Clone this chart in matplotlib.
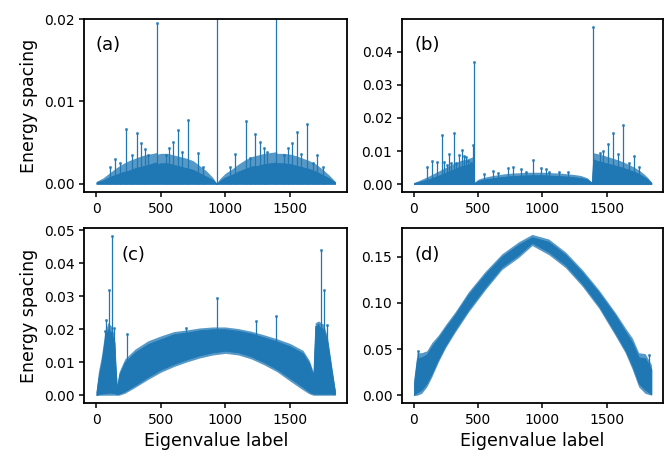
import numpy as np
import matplotlib
matplotlib.use('Agg')
import matplotlib.pyplot as plt

plt.rcParams.update({
    'font.family': 'DejaVu Sans',
    'xtick.labelsize': 10,
    'ytick.labelsize': 10,
    'axes.labelsize': 12.5,
    'axes.linewidth': 1.3,
    'xtick.major.width': 1.1,
    'ytick.major.width': 1.1,
})

BLUE = '#1f77b4'
N_LAST = 1849

# ---- panel (a): dense band top, hair fringe top, spikes
a_env_x = [0, 50, 100, 150, 200, 250, 300, 350, 400, 440, 465, 470, 500, 550, 600, 650,
           700, 750, 800, 850, 900, 931, 960, 1000, 1050, 1100, 1150, 1200, 1250, 1300,
           1350, 1394, 1400, 1450, 1500, 1550, 1600, 1650, 1700, 1750, 1800, 1849]
a_env_hi = [0.0002, 0.0004, 0.0008, 0.0011, 0.0014, 0.0016, 0.0019, 0.0021, 0.0023, 0.0025,
            0.0026, 0.0024, 0.0025, 0.0025, 0.0023, 0.0021, 0.0019, 0.0017, 0.0013, 0.0009,
            0.0005, 0.0000, 0.0004, 0.0008, 0.0011, 0.0015, 0.0018, 0.0021, 0.0022, 0.0024,
            0.0025, 0.0026, 0.0025, 0.0025, 0.0024, 0.0022, 0.0020, 0.0018, 0.0015, 0.0011,
            0.0007, 0.0002]
a_fringe = [0.0003, 0.0007, 0.0013, 0.0019, 0.0024, 0.0028, 0.0031, 0.0034, 0.0036, 0.0037,
            0.0038, 0.0036, 0.0037, 0.0037, 0.0035, 0.0033, 0.0031, 0.0028, 0.0022, 0.0016,
            0.0008, 0.0001, 0.0007, 0.0013, 0.0018, 0.0024, 0.0029, 0.0033, 0.0035, 0.0037,
            0.0038, 0.0039, 0.0037, 0.0037, 0.0036, 0.0034, 0.0031, 0.0028, 0.0024, 0.0018,
            0.0011, 0.0003]
a_spike_x = [108, 147, 183, 226, 275, 311, 347, 373, 399, 468, 540, 566, 592, 633, 664, 708,
             787, 826, 931, 1037, 1076, 1155, 1191, 1230, 1266, 1299, 1320, 1394, 1454, 1485,
             1515, 1551, 1588, 1634, 1680, 1711, 1752]
a_spike_y = [0.0020, 0.0030, 0.0025, 0.0067, 0.0035, 0.0062, 0.0049, 0.0042, 0.0035, 0.0195,
             0.0035, 0.0043, 0.0051, 0.0065, 0.0039, 0.0077, 0.0037, 0.0021, 0.0300, 0.0021,
             0.0036, 0.0076, 0.0031, 0.0061, 0.0051, 0.0044, 0.0039, 0.0300, 0.0035, 0.0043,
             0.0049, 0.0063, 0.0036, 0.0073, 0.0025, 0.0035, 0.0021]

# ---- panel (b)
b_env_x = [0, 40, 80, 120, 160, 200, 240, 280, 320, 360, 400, 440, 462, 470, 500, 550, 600,
           650, 700, 750, 800, 850, 900, 950, 1000, 1050, 1100, 1150, 1200, 1250, 1300, 1350,
           1385, 1395, 1430, 1470, 1510, 1550, 1590, 1630, 1670, 1710, 1750, 1790, 1820, 1849]
b_env_hi = [0.0003, 0.0007, 0.0011, 0.0015, 0.0021, 0.0027, 0.0033, 0.0040, 0.0046, 0.0053,
            0.0057, 0.0062, 0.0065, 0.0003, 0.0010, 0.0014, 0.0017, 0.0020, 0.0022, 0.0024,
            0.0025, 0.0026, 0.0027, 0.0027, 0.0027, 0.0026, 0.0025, 0.0024, 0.0023, 0.0021,
            0.0019, 0.0014, 0.0004, 0.0075, 0.0070, 0.0066, 0.0062, 0.0058, 0.0054, 0.0049,
            0.0044, 0.0038, 0.0031, 0.0022, 0.0014, 0.0004]
b_fringe = [0.0005, 0.0011, 0.0018, 0.0025, 0.0033, 0.0041, 0.0049, 0.0057, 0.0064, 0.0071,
            0.0075, 0.0080, 0.0083, 0.0005, 0.0015, 0.0021, 0.0025, 0.0028, 0.0031, 0.0033,
            0.0034, 0.0035, 0.0036, 0.0036, 0.0036, 0.0035, 0.0034, 0.0033, 0.0031, 0.0029,
            0.0026, 0.0019, 0.0006, 0.0095, 0.0092, 0.0088, 0.0083, 0.0078, 0.0073, 0.0067,
            0.0060, 0.0052, 0.0043, 0.0031, 0.0020, 0.0006]
b_spike_x = [103, 142, 180, 222, 235, 258, 274, 291, 309, 327, 353, 375, 389, 407, 425, 441,
             464, 465, 549, 618, 652, 729, 771, 830, 871, 928, 992, 1031, 1049, 1126, 1198,
             1395, 1448, 1469, 1508, 1549, 1585, 1631, 1678, 1714, 1755]
b_spike_y = [0.0053, 0.0070, 0.0067, 0.0149, 0.0067, 0.0057, 0.0092, 0.0065, 0.0156, 0.0065,
             0.0087, 0.0102, 0.0085, 0.0082, 0.0070, 0.0065, 0.0119, 0.0369, 0.0030, 0.0040,
             0.0035, 0.0050, 0.0052, 0.0047, 0.0038, 0.0073, 0.0049, 0.0045, 0.0037, 0.0038,
             0.0038, 0.0476, 0.0095, 0.0100, 0.0122, 0.0156, 0.0092, 0.0179, 0.0065, 0.0085,
             0.0053]

# ---- panel (c)
c_env_x = [0, 15, 40, 65, 90, 115, 140, 150, 160, 175, 220, 300, 400, 500, 600, 700, 800,
           900, 1000, 1100, 1200, 1300, 1400, 1500, 1600, 1650, 1680, 1695, 1720, 1760, 1790,
           1820, 1849]
c_env_hi = [0.001, 0.005, 0.010, 0.017, 0.020, 0.019, 0.016, 0.008, 0.002, 0.006, 0.010,
            0.013, 0.0155, 0.017, 0.0185, 0.019, 0.0197, 0.020, 0.020, 0.0195, 0.0187, 0.0175,
            0.0163, 0.0148, 0.0127, 0.0095, 0.006, 0.021, 0.021, 0.020, 0.016, 0.008, 0.001]
c_env_lo = [0.0, 0.0003, 0.0005, 0.0006, 0.0008, 0.0008, 0.0006, 0.0005, 0.0003, 0.0005,
            0.0012, 0.0031, 0.0056, 0.0078, 0.0095, 0.0109, 0.0121, 0.0130, 0.0135, 0.0130,
            0.0118, 0.0100, 0.0079, 0.0052, 0.0025, 0.0010, 0.0005, 0.0005, 0.0005, 0.0005,
            0.0005, 0.0005, 0.0003]
c_fringe_hi = [0.0015, 0.007, 0.012, 0.019, 0.022, 0.021, 0.018, 0.009, 0.0025, 0.007, 0.011,
               0.014, 0.0165, 0.018, 0.0193, 0.0198, 0.0204, 0.0207, 0.0207, 0.0202, 0.0194,
               0.0183, 0.0171, 0.0157, 0.0136, 0.0105, 0.007, 0.022, 0.0225, 0.0215, 0.0175,
               0.0095, 0.0015]
c_fringe_lo = [0.0, 0.0, 0.0, 0.0, 0.0, 0.0, 0.0, 0.0, 0.0, 0.0, 0.0006, 0.0024, 0.0048,
               0.0070, 0.0087, 0.0101, 0.0113, 0.0122, 0.0127, 0.0122, 0.0110, 0.0092, 0.0071,
               0.0043, 0.0016, 0.0004, 0.0, 0.0, 0.0, 0.0, 0.0, 0.0, 0.0]
c_spike_x = [64, 77, 95, 121, 136, 239, 694, 931, 1239, 1394, 1713, 1736, 1764, 1787]
c_spike_y = [0.0196, 0.0228, 0.0318, 0.0482, 0.0205, 0.0187, 0.0205, 0.0296, 0.0224, 0.0241,
             0.0212, 0.0439, 0.0318, 0.0212]

# ---- panel (d)
d_env_x = [0, 25, 60, 100, 140, 190, 245, 320, 425, 555, 685, 815, 920, 1050, 1180, 1310,
           1440, 1570, 1645, 1700, 1750, 1800, 1849]
d_env_hi = [0.012, 0.040, 0.041, 0.044, 0.053, 0.062, 0.073, 0.087, 0.109, 0.131, 0.150,
            0.163, 0.171, 0.166, 0.152, 0.133, 0.111, 0.086, 0.069, 0.057, 0.041, 0.040, 0.028]
d_env_lo = [0.000, 0.003, 0.006, 0.013, 0.024, 0.039, 0.054, 0.071, 0.093, 0.117, 0.139,
            0.152, 0.165, 0.155, 0.141, 0.121, 0.097, 0.067, 0.049, 0.032, 0.013, 0.006, 0.001]
d_fringe_hi = [0.018, 0.046, 0.046, 0.048, 0.057, 0.065, 0.076, 0.090, 0.112, 0.134, 0.153,
               0.166, 0.174, 0.169, 0.155, 0.136, 0.114, 0.089, 0.073, 0.062, 0.046, 0.045,
               0.033]
d_fringe_lo = [0.0, 0.0, 0.002, 0.009, 0.020, 0.036, 0.051, 0.068, 0.090, 0.114, 0.136, 0.149,
               0.162, 0.152, 0.138, 0.118, 0.094, 0.064, 0.046, 0.028, 0.009, 0.002, 0.0]
d_spike_x = [31, 1828]
d_spike_y = [0.048, 0.044]


def draw_panel(ax, env_x, lo, hi, f_lo, f_hi, spike_x, spike_y, tag, tag_x):
    # lighter fringe where the curve only flicks out, solid where it is dense
    ax.fill_between(env_x, f_lo, f_hi, color=BLUE, alpha=0.75, lw=0)
    ax.fill_between(env_x, lo, hi, color=BLUE, lw=0.6, edgecolor=BLUE)
    base = np.interp(spike_x, env_x, lo)
    ax.vlines(spike_x, base, spike_y, color=BLUE, lw=0.9)
    ax.plot(spike_x, spike_y, '.', color=BLUE, ms=2.5, alpha=0.7)
    ax.set_xlim(-0.05 * N_LAST, 1.05 * N_LAST)
    ax.set_xticks([0, 500, 1000, 1500])
    ax.text(tag_x, 0.85, tag, transform=ax.transAxes, fontsize=13, va='center')


fig = plt.figure(figsize=(6.7, 4.53), dpi=100)
ax_a = fig.add_axes([0.126, 0.576, 0.392, 0.382])
ax_b = fig.add_axes([0.600, 0.576, 0.390, 0.382])
ax_c = fig.add_axes([0.126, 0.110, 0.392, 0.386])
ax_d = fig.add_axes([0.600, 0.110, 0.390, 0.386])

zeros_a = [0.0] * len(a_env_x)
zeros_b = [0.0] * len(b_env_x)

draw_panel(ax_a, a_env_x, zeros_a, a_env_hi, zeros_a, a_fringe,
           a_spike_x, a_spike_y, '(a)', 0.044)
ax_a.set_ylim(-0.001, 0.02)
ax_a.set_yticks([0.0, 0.01, 0.02])

draw_panel(ax_b, b_env_x, zeros_b, b_env_hi, zeros_b, b_fringe,
           b_spike_x, b_spike_y, '(b)', 0.047)
ax_b.set_ylim(-0.0024, 0.0499)

draw_panel(ax_c, c_env_x, c_env_lo, c_env_hi, c_fringe_lo, c_fringe_hi,
           c_spike_x, c_spike_y, '(c)', 0.143)
ax_c.set_ylim(-0.0024, 0.0506)

draw_panel(ax_d, d_env_x, d_env_lo, d_env_hi, d_fringe_lo, d_fringe_hi,
           d_spike_x, d_spike_y, '(d)', 0.047)
ax_d.set_ylim(-0.0086, 0.1806)
ax_d.set_yticks([0.0, 0.05, 0.10, 0.15])

ax_a.set_ylabel('Energy spacing')
ax_c.set_ylabel('Energy spacing')
ax_c.set_xlabel('Eigenvalue label')
ax_d.set_xlabel('Eigenvalue label')

fig.savefig('out.png', dpi=100)
